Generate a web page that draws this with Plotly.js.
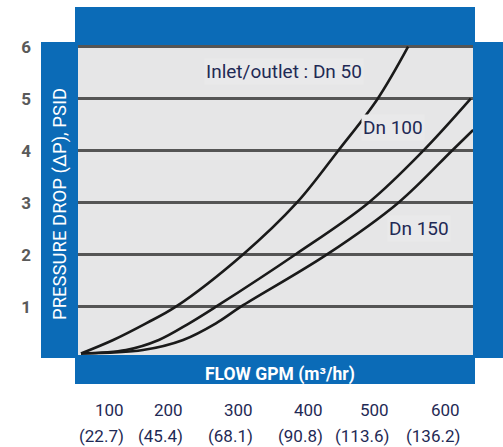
<!DOCTYPE html>
<html>
<head>
<meta charset="utf-8">
<script src="https://cdn.plot.ly/plotly-3.0.1.min.js"></script>
<style>html,body{margin:0;padding:0;background:#fff;}#chart{width:503px;height:447px;}</style>
</head>
<body>
<div id="chart"></div>
<script>
// Flow (GPM) vs pressure drop (PSID)
var dn50Flow  = [0, 53, 107, 156, 266, 355, 423, 488, 538];
var dn50Dp    = [0.10, 0.36, 0.68, 1.0, 2.0, 3.0, 4.0, 5.0, 6.0];
var dn100Flow = [0, 74, 128, 178, 222, 352, 473, 563, 641];
var dn100Dp   = [0.10, 0.167, 0.36, 0.68, 1.0, 2.0, 3.0, 4.0, 5.0];
var dn150Flow = [0, 102, 168, 222, 263, 404, 522, 610, 645];
var dn150Dp   = [0.10, 0.167, 0.36, 0.68, 1.0, 2.0, 3.0, 4.0, 4.4];
var yTicks = [1, 2, 3, 4, 5, 6];
var flowTicks = ['100', '200', '300', '400', '500', '600'];
var m3Ticks = ['(22.7)', '(45.4)', '(68.1)', '(90.8)', '(113.6)', '(136.2)'];
var seriesNames = ['Inlet/outlet : Dn 50', 'Dn 100', 'Dn 150'];

var BLUE = '#0b6bb7', NAVY = '#1f2a55', FONT = 'Roboto, "DejaVu Sans", sans-serif';
function line(x, y, n) {
  return {x: x, y: y, name: n, type: 'scatter', mode: 'lines',
    line: {color: '#1a1a1a', width: 2.6, shape: 'spline', smoothing: 1}, hoverinfo: 'skip'};
}
var data = [line(dn50Flow, dn50Dp, seriesNames[0]), line(dn100Flow, dn100Dp, seriesNames[1]), line(dn150Flow, dn150Dp, seriesNames[2])];

// plot area in px: x 78..473, y 45..355
function px2paperX(p) { return (p - 78) / 395; }
function px2paperY(p) { return (355 - p) / 310; }

var shapes = [
  {type: 'rect', xref: 'paper', yref: 'paper', x0: px2paperX(75), x1: px2paperX(475), y0: 1, y1: px2paperY(7), fillcolor: BLUE, line: {width: 0}, layer: 'below'},
  {type: 'rect', xref: 'paper', yref: 'paper', x0: px2paperX(41), x1: 0, y0: px2paperY(358), y1: px2paperY(42), fillcolor: BLUE, line: {width: 0}, layer: 'below'},
  {type: 'rect', xref: 'paper', yref: 'paper', x0: 1, x1: px2paperX(503), y0: px2paperY(358), y1: px2paperY(42), fillcolor: BLUE, line: {width: 0}, layer: 'below'},
  {type: 'rect', xref: 'paper', yref: 'paper', x0: px2paperX(75), x1: px2paperX(475), y0: px2paperY(384), y1: 0, fillcolor: BLUE, line: {width: 0}, layer: 'below'}
];

function ann(xp, yp, text, size, color, extra) {
  var a = {x: px2paperX(xp), y: px2paperY(yp), xref: 'paper', yref: 'paper', xanchor: 'center', yanchor: 'middle',
    text: text, showarrow: false, font: {family: FONT, size: size, color: color}};
  for (var k in (extra || {})) a[k] = extra[k];
  return a;
}
var labelRightPx = [126, 185, 255, 325, 391, 462];
var annotations = [
  ann(284, 72, seriesNames[0], 19, NAVY, {bgcolor: '#e9e9ea'}),
  ann(393, 128, seriesNames[1], 19, NAVY, {bgcolor: '#e9e9ea'}),
  ann(419, 228, seriesNames[2], 19, NAVY, {bgcolor: '#e9e9ea'}),
  ann(60, 204, 'PRESSURE DROP (ΔP), PSID', 18.5, '#ffffff', {textangle: -90}),
  ann(280, 374, '<b>FLOW GPM (m³/hr)</b>', 17.5, '#ffffff')
];
for (var i = 0; i < flowTicks.length; i++) {
  annotations.push(ann(labelRightPx[i], 410, flowTicks[i], 17, NAVY, {xanchor: 'right'}));
  annotations.push(ann(labelRightPx[i], 436, m3Ticks[i], 17, NAVY, {xanchor: 'right'}));
}

var layout = {
  width: 503, height: 447,
  margin: {l: 78, r: 30, t: 45, b: 92, pad: 0},
  paper_bgcolor: '#ffffff', plot_bgcolor: '#e6e6e7',
  showlegend: false,
  xaxis: {range: [-4.9, 644.7], showgrid: false, zeroline: false, showticklabels: false, ticks: '', fixedrange: true},
  yaxis: {range: [0.071, 6.033], tickvals: yTicks, ticktext: yTicks.map(String), showgrid: true, gridcolor: '#555555', gridwidth: 2.5,
    zeroline: false, ticks: '', ticklabelstandoff: 46, tickfont: {family: FONT, size: 17, color: '#5a5a5a', weight: 'bold'}, fixedrange: true},
  shapes: shapes,
  annotations: annotations
};
Plotly.newPlot('chart', data, layout, {staticPlot: true});
</script>
</body>
</html>
